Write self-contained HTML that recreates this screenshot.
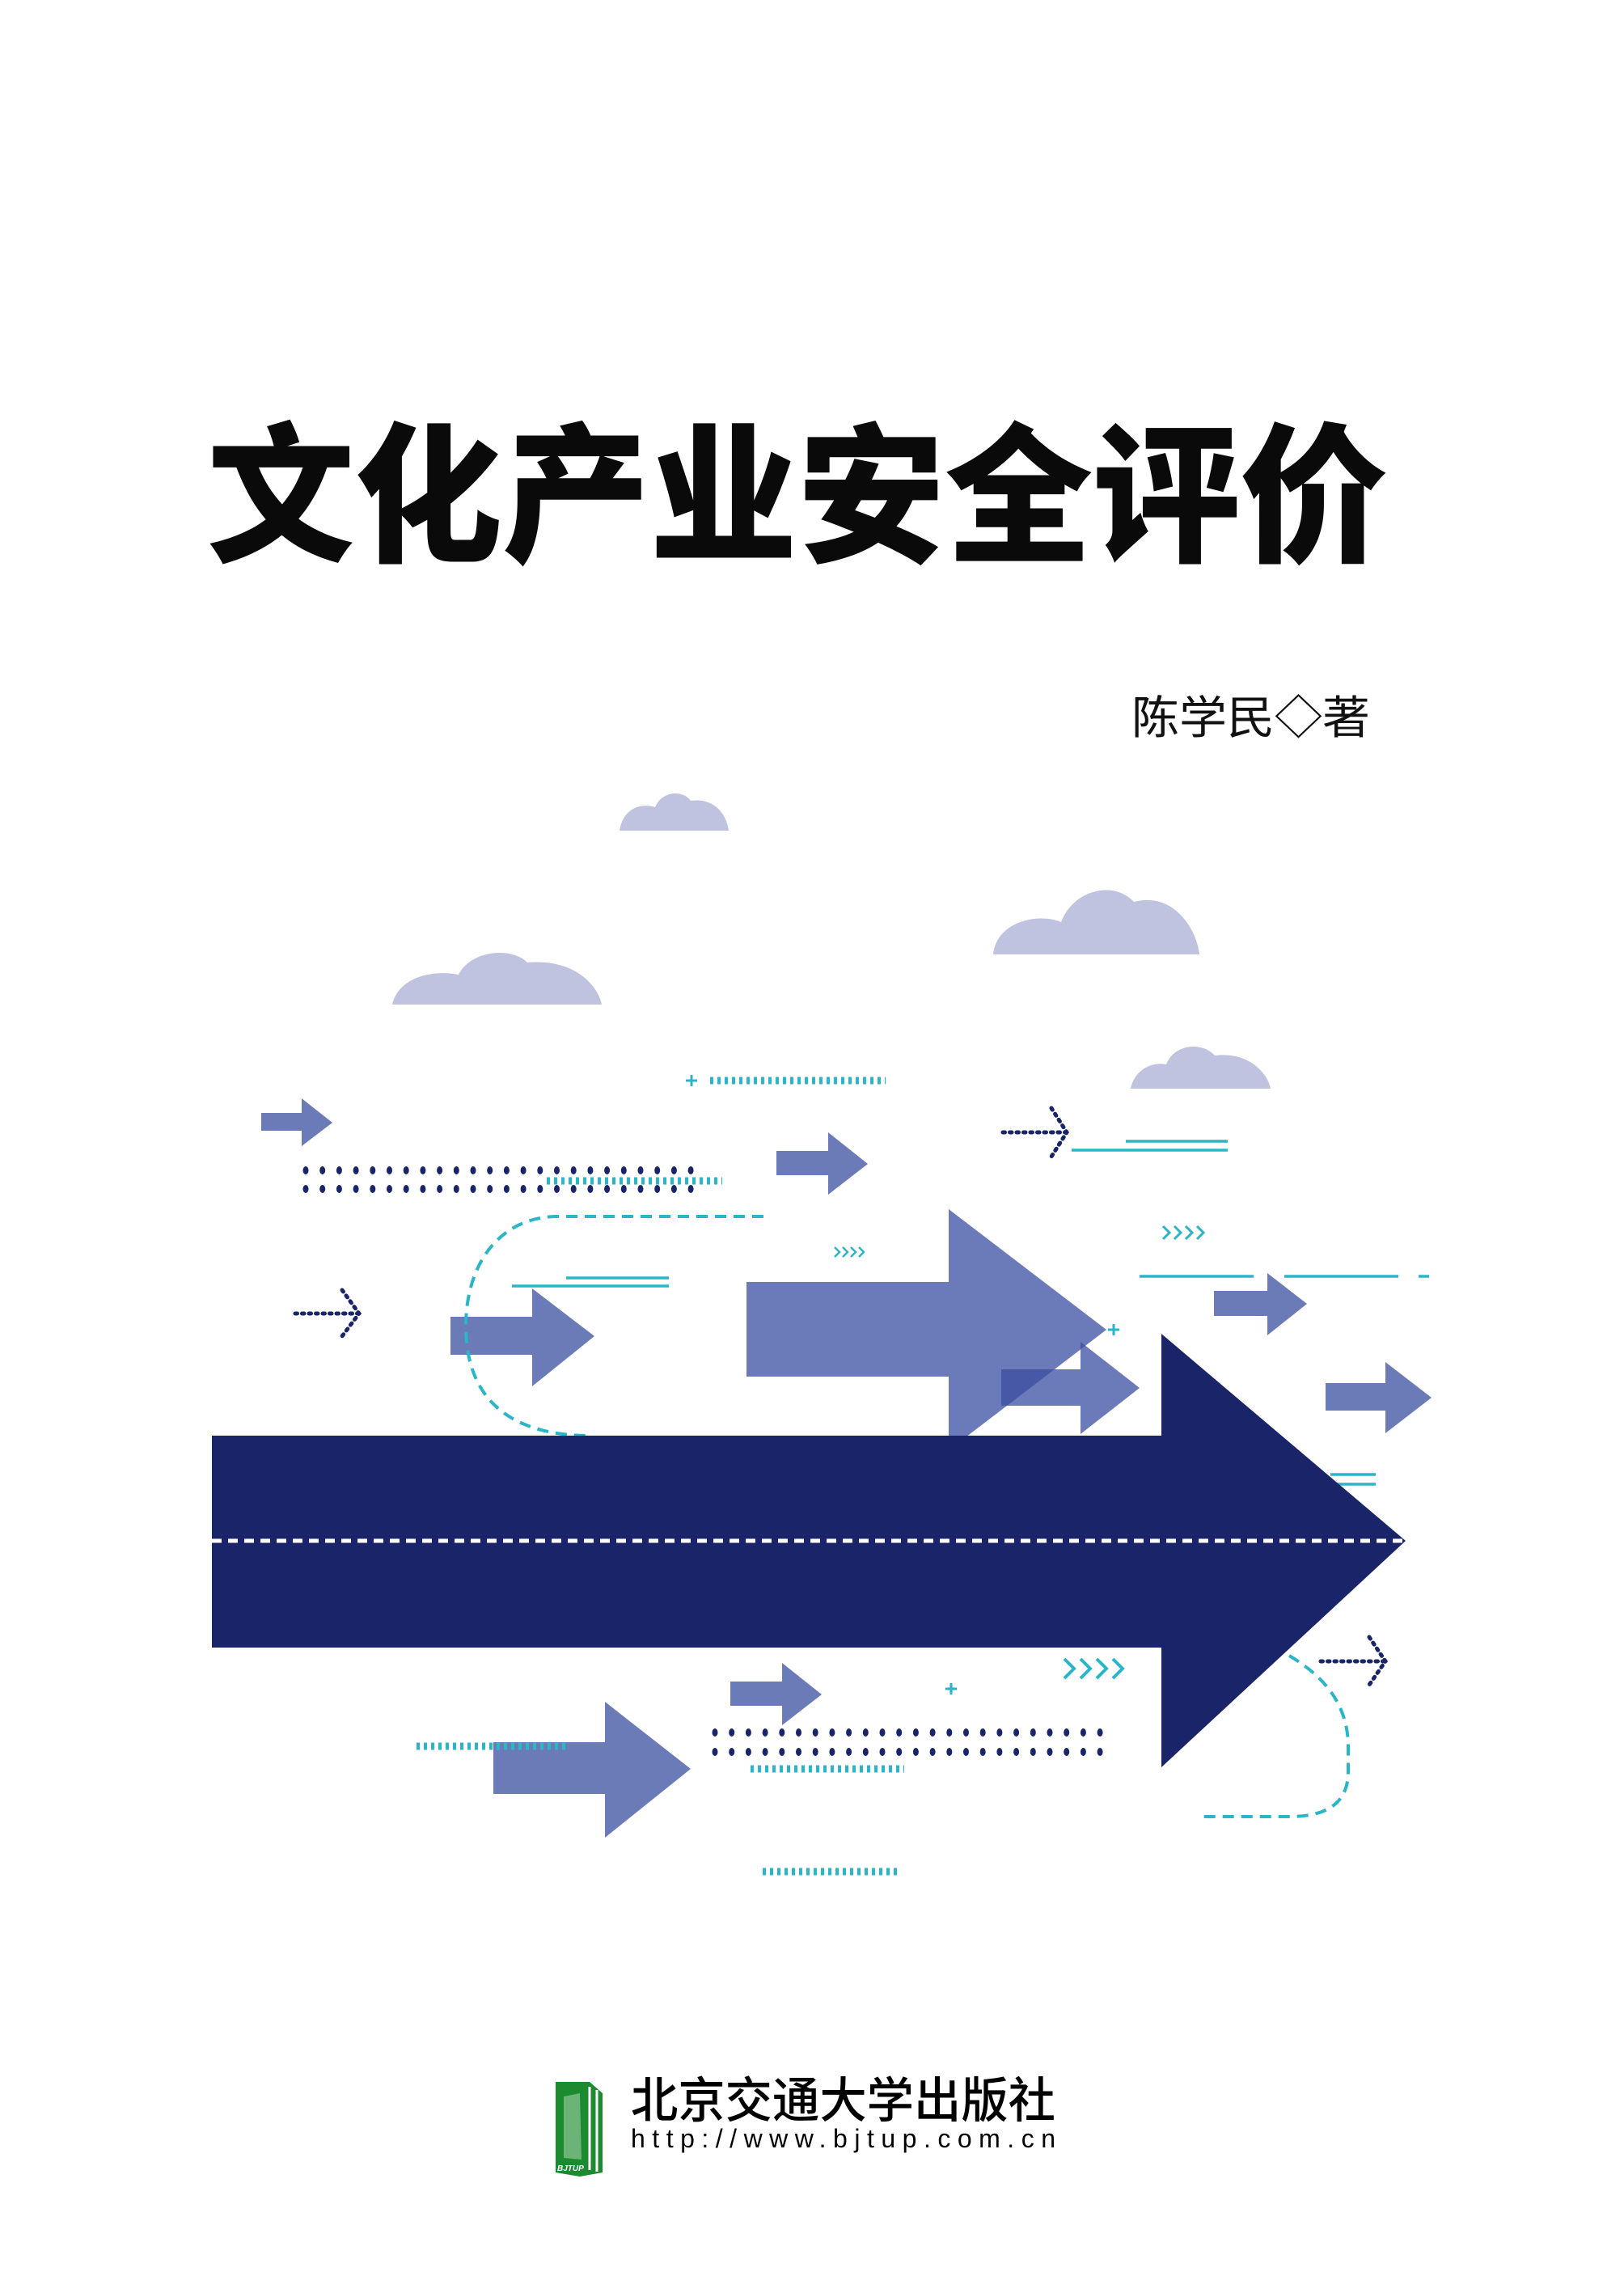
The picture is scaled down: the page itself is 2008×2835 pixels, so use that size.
<!DOCTYPE html>
<html><head><meta charset="utf-8"><style>html,body{margin:0;padding:0;background:#fff}svg{display:block}</style></head><body>
<svg width="2008" height="2835" viewBox="0 0 2008 2835" xmlns="http://www.w3.org/2000/svg">
<defs>
<g id="row"><ellipse cx="378" cy="0" rx="3.5" ry="5"/><ellipse cx="398.7" cy="0" rx="3.5" ry="5"/><ellipse cx="419.4" cy="0" rx="3.5" ry="5"/><ellipse cx="440.1" cy="0" rx="3.5" ry="5"/><ellipse cx="460.8" cy="0" rx="3.5" ry="5"/><ellipse cx="481.5" cy="0" rx="3.5" ry="5"/><ellipse cx="502.2" cy="0" rx="3.5" ry="5"/><ellipse cx="522.9" cy="0" rx="3.5" ry="5"/><ellipse cx="543.6" cy="0" rx="3.5" ry="5"/><ellipse cx="564.3" cy="0" rx="3.5" ry="5"/><ellipse cx="585" cy="0" rx="3.5" ry="5"/><ellipse cx="605.7" cy="0" rx="3.5" ry="5"/><ellipse cx="626.4" cy="0" rx="3.5" ry="5"/><ellipse cx="647.1" cy="0" rx="3.5" ry="5"/><ellipse cx="667.8" cy="0" rx="3.5" ry="5"/><ellipse cx="688.5" cy="0" rx="3.5" ry="5"/><ellipse cx="709.2" cy="0" rx="3.5" ry="5"/><ellipse cx="729.9" cy="0" rx="3.5" ry="5"/><ellipse cx="750.6" cy="0" rx="3.5" ry="5"/><ellipse cx="771.3" cy="0" rx="3.5" ry="5"/><ellipse cx="792" cy="0" rx="3.5" ry="5"/><ellipse cx="812.7" cy="0" rx="3.5" ry="5"/><ellipse cx="833.4" cy="0" rx="3.5" ry="5"/><ellipse cx="854.1" cy="0" rx="3.5" ry="5"/></g>
</defs>
<rect width="2008" height="2835" fill="#fff"/>
<text x="256" y="680" font-family="Noto Sans CJK SC, sans-serif" font-weight="900" font-size="186" textLength="1460" lengthAdjust="spacingAndGlyphs" fill="#0a0a0a">文化产业安全评价</text>
<text x="1399" y="907" font-family="Noto Sans CJK SC, sans-serif" font-size="56" textLength="295" lengthAdjust="spacingAndGlyphs" fill="#111">陈学民◇著</text>
<g fill="#bfc3e0" transform="translate(-8,-10)">
<path d="M774,1037 C778,1010 800,1002 818,1008 C826,988 852,986 862,1000 C890,996 906,1015 909,1037 Z"/>
<path d="M1236,1190 C1240,1150 1290,1138 1320,1150 C1335,1110 1385,1098 1410,1125 C1460,1112 1488,1160 1491,1190 Z"/>
<path d="M493,1252 C500,1220 540,1208 575,1215 C590,1185 640,1180 660,1200 C720,1195 748,1230 752,1252 Z"/>
<path d="M1406,1356 C1410,1335 1430,1322 1450,1326 C1460,1300 1495,1298 1510,1315 C1550,1310 1575,1335 1579,1356 Z"/>
</g>
<g fill="#6b7bb8">
<path d="M323,1376 H373 V1358 L411,1388 L373,1417 V1398 H323 Z"/>
<path d="M960,1423 H1024 V1400 L1073,1439 L1024,1477 V1453 H960 Z"/>
<path d="M557,1628 H658 V1593 L735,1652 L658,1714 V1675 H557 Z"/>
<path d="M1501,1596 H1567 V1574 L1616,1612 L1567,1651 V1627 H1501 Z"/>
<path d="M1639,1710 H1713 V1684 L1770,1728 L1713,1772 V1744 H1639 Z"/>
<path d="M903,2079 H967 V2056 L1016,2095 L967,2133 V2109 H903 Z"/>
<path d="M610,2154 H748 V2104 L854,2187 L748,2272 V2218 H610 Z"/>
</g>
<g fill="#3a4ea0" fill-opacity="0.75">
<path d="M923,1585 H1173 V1495 L1368,1644 L1173,1793 V1702 H923 Z"/>
<path d="M1238,1693 H1336 V1659 L1409,1716 L1336,1773 V1738 H1238 Z"/>
</g>
<g stroke="#2bb5c9" fill="none" stroke-width="4">
<path d="M944,1504 L690,1504 C620,1504 576,1560 576,1640 C576,1720 620,1775 730,1775" stroke-dasharray="14,9"/>
<path d="M1594,2047 C1650,2080 1667,2120 1667,2160 L1667,2190 C1667,2230 1640,2246 1594,2246 L1480,2246" stroke-dasharray="14,9"/>
<path d="M878,1336 H1095 M676,1460 H893 M515,2159 H704 M928,2187 H1118 M943,2314 H1112" stroke-width="9" stroke-dasharray="4,5"/>
<path d="M1392,1411 H1518 M1325,1422 H1518 M700,1580 H827 M633,1590 H827 M1409,1578 H1550 M1588,1578 H1729 M1754,1578 H1767 M1645,1823 H1701 M1645,1835 H1701" stroke-width="3.5"/>
<path d="M848,1336 H862 M855,1329 V1343 M1370,1644 H1384 M1377,1637 V1651 M1169,2088 H1183 M1176,2081 V2095" stroke-width="3"/>
<path d="M1032,1542 l6,6 l-6,6 M1042,1542 l6,6 l-6,6 M1052,1542 l6,6 l-6,6 M1062,1542 l6,6 l-6,6" stroke-width="2.5"/>
<path d="M1438,1516 l8,8 l-8,8 M1452,1516 l8,8 l-8,8 M1466,1516 l8,8 l-8,8 M1480,1516 l8,8 l-8,8" stroke-width="3"/>
<path d="M1316,2051 l12,12 l-12,12 M1336,2051 l12,12 l-12,12 M1356,2051 l12,12 l-12,12 M1376,2051 l12,12 l-12,12" stroke-width="4"/>
</g>
<path d="M262,1775 H1436 V1649 L1738,1905 L1436,2185 V2037 H262 Z" fill="#1a2569"/>
<line x1="262" y1="1905" x2="1738" y2="1905" stroke="#fff" stroke-width="5" stroke-dasharray="12,8"/>
<use href="#row" fill="#1a2569" transform="translate(0,1447)"/>
<use href="#row" fill="#1a2569" transform="translate(0,1470)"/>
<use href="#row" fill="#1a2569" transform="translate(506,2142)"/>
<use href="#row" fill="#1a2569" transform="translate(506,2166)"/>
<g stroke="#1a2569" stroke-width="5" fill="none" stroke-dasharray="2.5,6" stroke-linecap="round">
<path d="M1240,1400 H1319 M1300,1370 L1319,1400 L1300,1430"/>
<path d="M365,1624 H444 M423,1595 L444,1624 L423,1652"/>
<path d="M1633,2054 H1713 M1693,2024 L1713,2054 L1693,2083"/>
</g>
<g transform="translate(-5,-12)">
<path d="M692,2586 L734,2586 L750,2600 L750,2698 L722,2703 L692,2698 Z" fill="#1c8a2e"/>
<path d="M734,2592 V2695 M743,2596 V2697" stroke="#fff" stroke-width="3"/>
<path d="M702,2604 L722,2600 L724,2682 L702,2680 Z" fill="#fff" opacity="0.35"/>
<text x="694" y="2696" font-family="Liberation Sans, sans-serif" font-weight="bold" font-style="italic" font-size="10" fill="#fff">BJTUP</text>
</g>
<text x="780" y="2618" font-family="Noto Sans CJK SC, sans-serif" font-weight="500" font-size="60" textLength="525" lengthAdjust="spacingAndGlyphs" fill="#000">北京交通大学出版社</text>
<text x="780" y="2655" font-family="Liberation Sans, sans-serif" font-size="32" textLength="525" lengthAdjust="spacing" fill="#000">http://www.bjtup.com.cn</text>
</svg>
</body></html>
